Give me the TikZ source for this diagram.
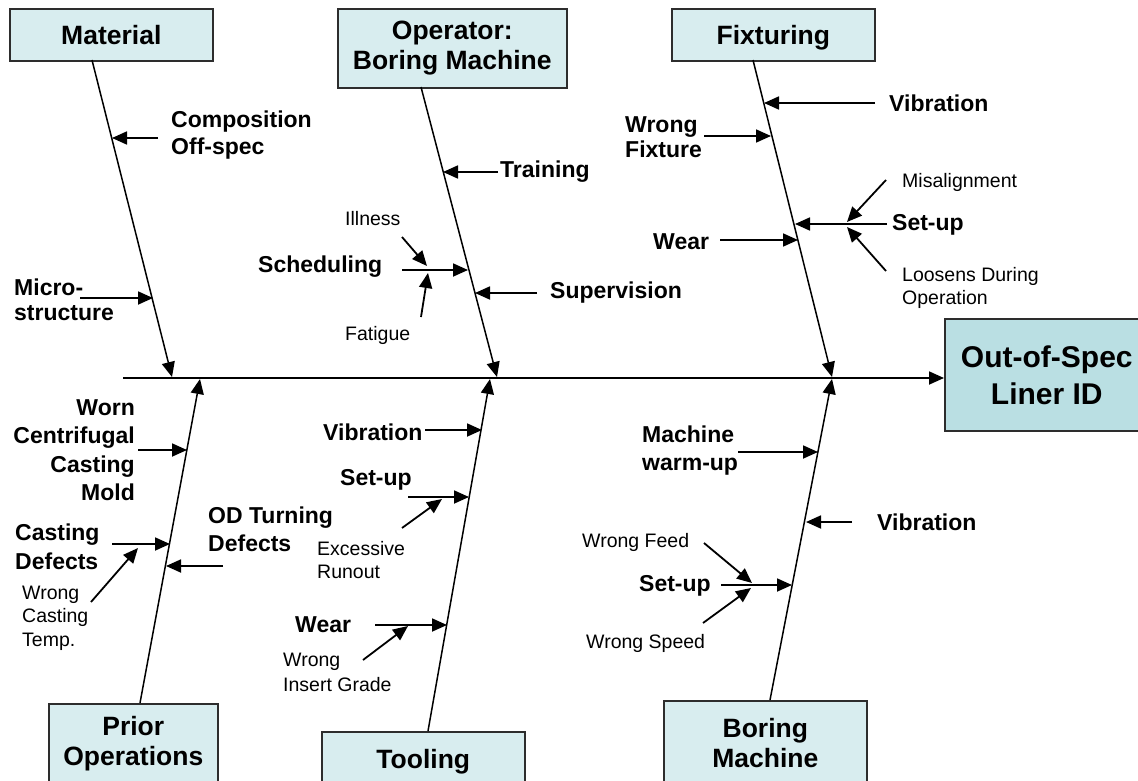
\documentclass[tikz,border=0pt]{standalone}
\usepackage{fontspec}
\setmainfont{Liberation Sans}
\usetikzlibrary{arrows.meta}
\definecolor{boxfill}{RGB}{216,237,239}
\definecolor{effectfill}{RGB}{186,223,227}
\definecolor{boxline}{RGB}{45,45,45}
\begin{document}
\begin{tikzpicture}[x=1pt,y=-1pt,
  catbox/.style={draw=boxline, line width=1.6pt, fill=boxfill, anchor=north west, inner sep=0pt,
    font=\fontsize{26.5}{30}\selectfont\bfseries, align=center},
  effbox/.style={draw=boxline, line width=1.6pt, fill=effectfill, anchor=north west, inner sep=0pt,
    font=\fontsize{30}{37}\selectfont\bfseries, align=center},
  lbl/.style={font=\fontsize{23}{27}\selectfont\bfseries, inner sep=0pt},
  sml/.style={font=\fontsize{19.5}{23.5}\selectfont, inner sep=0pt},
  bone/.style={line width=1.5pt, -{Triangle[length=15pt,width=13pt]}},
  arr/.style={line width=1.8pt, -{Triangle[length=15pt,width=13pt]}},
]
\useasboundingbox (0,0) rectangle (1138,781);

% ---------- category boxes ----------
\node[catbox, minimum width=203pt, minimum height=52pt, text depth=0pt] (mat) at (9,8) {Material};
\node[catbox, minimum width=229pt, minimum height=79pt] (opr) at (337,8) {Operator:\\Boring Machine};
\node[catbox, minimum width=203pt, minimum height=52pt, text depth=0pt] (fix) at (671,8) {Fixturing};
\node[catbox, minimum width=169pt, minimum height=80pt] (pri) at (48,703) {Prior\\Operations};
\node[catbox, minimum width=203pt, minimum height=54pt, text depth=0pt] (too) at (321,731) {Tooling};
\node[catbox, minimum width=203pt, minimum height=84pt] (bor) at (663,700) {Boring\\Machine};
\node[effbox, minimum width=204pt, minimum height=112pt] (eff) at (944,318) {Out-of-Spec\\Liner ID};

% ---------- spine ----------
\coordinate (spS) at (123,378);
\draw[arr] (spS) -- (spS -| eff.west);

% ---------- bones ----------
\coordinate (matB) at (92,60);   \coordinate (matT) at (172,377);
\coordinate (oprB) at (421,87);  \coordinate (oprT) at (497,377);
\coordinate (fixB) at (753,60);  \coordinate (fixT) at (832,377);
\coordinate (priB) at (140,703); \coordinate (priT) at (200,379);
\coordinate (tooB) at (428,731); \coordinate (tooT) at (490,379);
\coordinate (borB) at (770,700); \coordinate (borT) at (832,379);
\draw[bone] (matB) -- (matT);
\draw[bone] (oprB) -- (oprT);
\draw[bone] (fixB) -- (fixT);
\draw[bone] (priB) -- (priT);
\draw[bone] (tooB) -- (tooT);
\draw[bone] (borB) -- (borT);

% ---------- Material ----------
\node[lbl, anchor=west, align=left] (comp) at (171,135) {Composition\\Off-spec};
\node[lbl, anchor=west, align=left, font=\fontsize{23}{24.5}\selectfont\bfseries] (micro) at (14,300) {Micro-\\structure};
\coordinate (compS) at (158,138); \coordinate (compT) at (112,138);
\coordinate (microS) at (80,298); \coordinate (microT) at (153,298);
\draw[arr] (compS) -- (compT);
\draw[arr] (microS) -- (microT);

% ---------- Operator ----------
\node[lbl, anchor=west] (train) at (500,172) {Training};
\node[lbl, anchor=west] (sched) at (258,267) {Scheduling};
\node[sml, anchor=west] (ill) at (345,219) {Illness};
\node[sml, anchor=west] (fat) at (345,335) {Fatigue};
\node[lbl, anchor=west] (sup) at (550,293) {Supervision};
\coordinate (trainS) at (498,172); \coordinate (trainT) at (443,172);
\coordinate (schedS) at (402,270); \coordinate (schedT) at (468,270);
\coordinate (illS) at (402,237);   \coordinate (illT) at (427,266);
\coordinate (fatS) at (421,317);   \coordinate (fatT) at (428,273);
\coordinate (supS) at (537,293);   \coordinate (supT) at (475,293);
\draw[arr] (trainS) -- (trainT);
\draw[arr] (schedS) -- (schedT);
\draw[arr] (illS) -- (illT);
\draw[arr] (fatS) -- (fatT);
\draw[arr] (supS) -- (supT);

% ---------- Fixturing ----------
\node[lbl, anchor=west] (fvib) at (889,103) {Vibration};
\node[lbl, anchor=west, align=left, font=\fontsize{23}{25.5}\selectfont\bfseries] (wfix) at (625,137) {Wrong\\Fixture};
\node[sml, anchor=west] (mis) at (902,182) {Misalignment};
\node[lbl, anchor=west] (fset) at (892,225) {Set-up};
\node[sml, anchor=west, align=left] (loos) at (902,288) {Loosens During\\Operation};
\node[lbl, anchor=west] (fwear) at (653,242) {Wear};
\coordinate (fvibS) at (875,103); \coordinate (fvibT) at (764,103);
\coordinate (wfixS) at (704,136); \coordinate (wfixT) at (771,136);
\coordinate (fsetS) at (887,224); \coordinate (fsetT) at (795,224);
\coordinate (misS) at (886,180);  \coordinate (misT) at (847,222);
\coordinate (loosS) at (886,271); \coordinate (loosT) at (847,227);
\coordinate (fwearS) at (720,240); \coordinate (fwearT) at (798,240);
\draw[arr] (fvibS) -- (fvibT);
\draw[arr] (wfixS) -- (wfixT);
\draw[arr] (fsetS) -- (fsetT);
\draw[arr] (misS) -- (misT);
\draw[arr] (loosS) -- (loosT);
\draw[arr] (fwearS) -- (fwearT);

% ---------- Prior Operations ----------
\node[lbl, anchor=east, align=right, font=\fontsize{23}{28.5}\selectfont\bfseries] (worn) at (135,450) {Worn\\Centrifugal\\Casting\\Mold};
\node[lbl, anchor=west, align=left, font=\fontsize{23}{29}\selectfont\bfseries] (cdef) at (15,547) {Casting\\Defects};
\node[sml, anchor=west, align=left] (wct) at (22,618) {Wrong\\Casting\\Temp.};
\node[lbl, anchor=west, align=left, font=\fontsize{23}{28}\selectfont\bfseries] (odt) at (208,529) {OD Turning\\Defects};
\coordinate (wornS) at (138,450); \coordinate (wornT) at (187,450);
\coordinate (cdefS) at (112,544); \coordinate (cdefT) at (170,544);
\coordinate (wctS) at (91,602);   \coordinate (wctT) at (138,548);
\coordinate (odtS) at (223,566);  \coordinate (odtT) at (166,566);
\draw[arr] (wornS) -- (wornT);
\draw[arr] (cdefS) -- (cdefT);
\draw[arr] (wctS) -- (wctT);
\draw[arr] (odtS) -- (odtT);

% ---------- Tooling ----------
\node[lbl, anchor=west] (tvib) at (323,432) {Vibration};
\node[lbl, anchor=west] (tset) at (340,480) {Set-up};
\node[sml, anchor=west, align=left] (exr) at (317,560) {Excessive\\Runout};
\node[lbl, anchor=west] (twear) at (295,625) {Wear};
\node[sml, anchor=west, align=left, font=\fontsize{19.5}{25}\selectfont] (wig) at (283,672) {Wrong\\Insert Grade};
\coordinate (tvibS) at (425,430); \coordinate (tvibT) at (482,430);
\coordinate (tsetS) at (408,497); \coordinate (tsetT) at (469,497);
\coordinate (exrS) at (402,528);  \coordinate (exrT) at (442,499);
\coordinate (twearS) at (375,625); \coordinate (twearT) at (447,625);
\coordinate (wigS) at (363,660);  \coordinate (wigT) at (408,626);
\draw[arr] (tvibS) -- (tvibT);
\draw[arr] (tsetS) -- (tsetT);
\draw[arr] (exrS) -- (exrT);
\draw[arr] (twearS) -- (twearT);
\draw[arr] (wigS) -- (wigT);

% ---------- Boring Machine ----------
\node[lbl, anchor=west, align=left, font=\fontsize{23}{28}\selectfont\bfseries] (mwu) at (642,451) {Machine\\warm-up};
\node[lbl, anchor=west] (bvib) at (877,522) {Vibration};
\node[sml, anchor=west] (wfeed) at (582,542) {Wrong Feed};
\node[lbl, anchor=west] (bset) at (639,586) {Set-up};
\node[sml, anchor=west] (wspd) at (586,643) {Wrong Speed};
\coordinate (mwuS) at (738,452);  \coordinate (mwuT) at (818,452);
\coordinate (bvibS) at (852,522); \coordinate (bvibT) at (806,522);
\coordinate (bsetS) at (721,585); \coordinate (bsetT) at (792,585);
\coordinate (wfeedS) at (704,543); \coordinate (wfeedT) at (752,583);
\coordinate (wspdS) at (703,623); \coordinate (wspdT) at (751,588);
\draw[arr] (mwuS) -- (mwuT);
\draw[arr] (bvibS) -- (bvibT);
\draw[arr] (bsetS) -- (bsetT);
\draw[arr] (wfeedS) -- (wfeedT);
\draw[arr] (wspdS) -- (wspdT);
\end{tikzpicture}
\end{document}
